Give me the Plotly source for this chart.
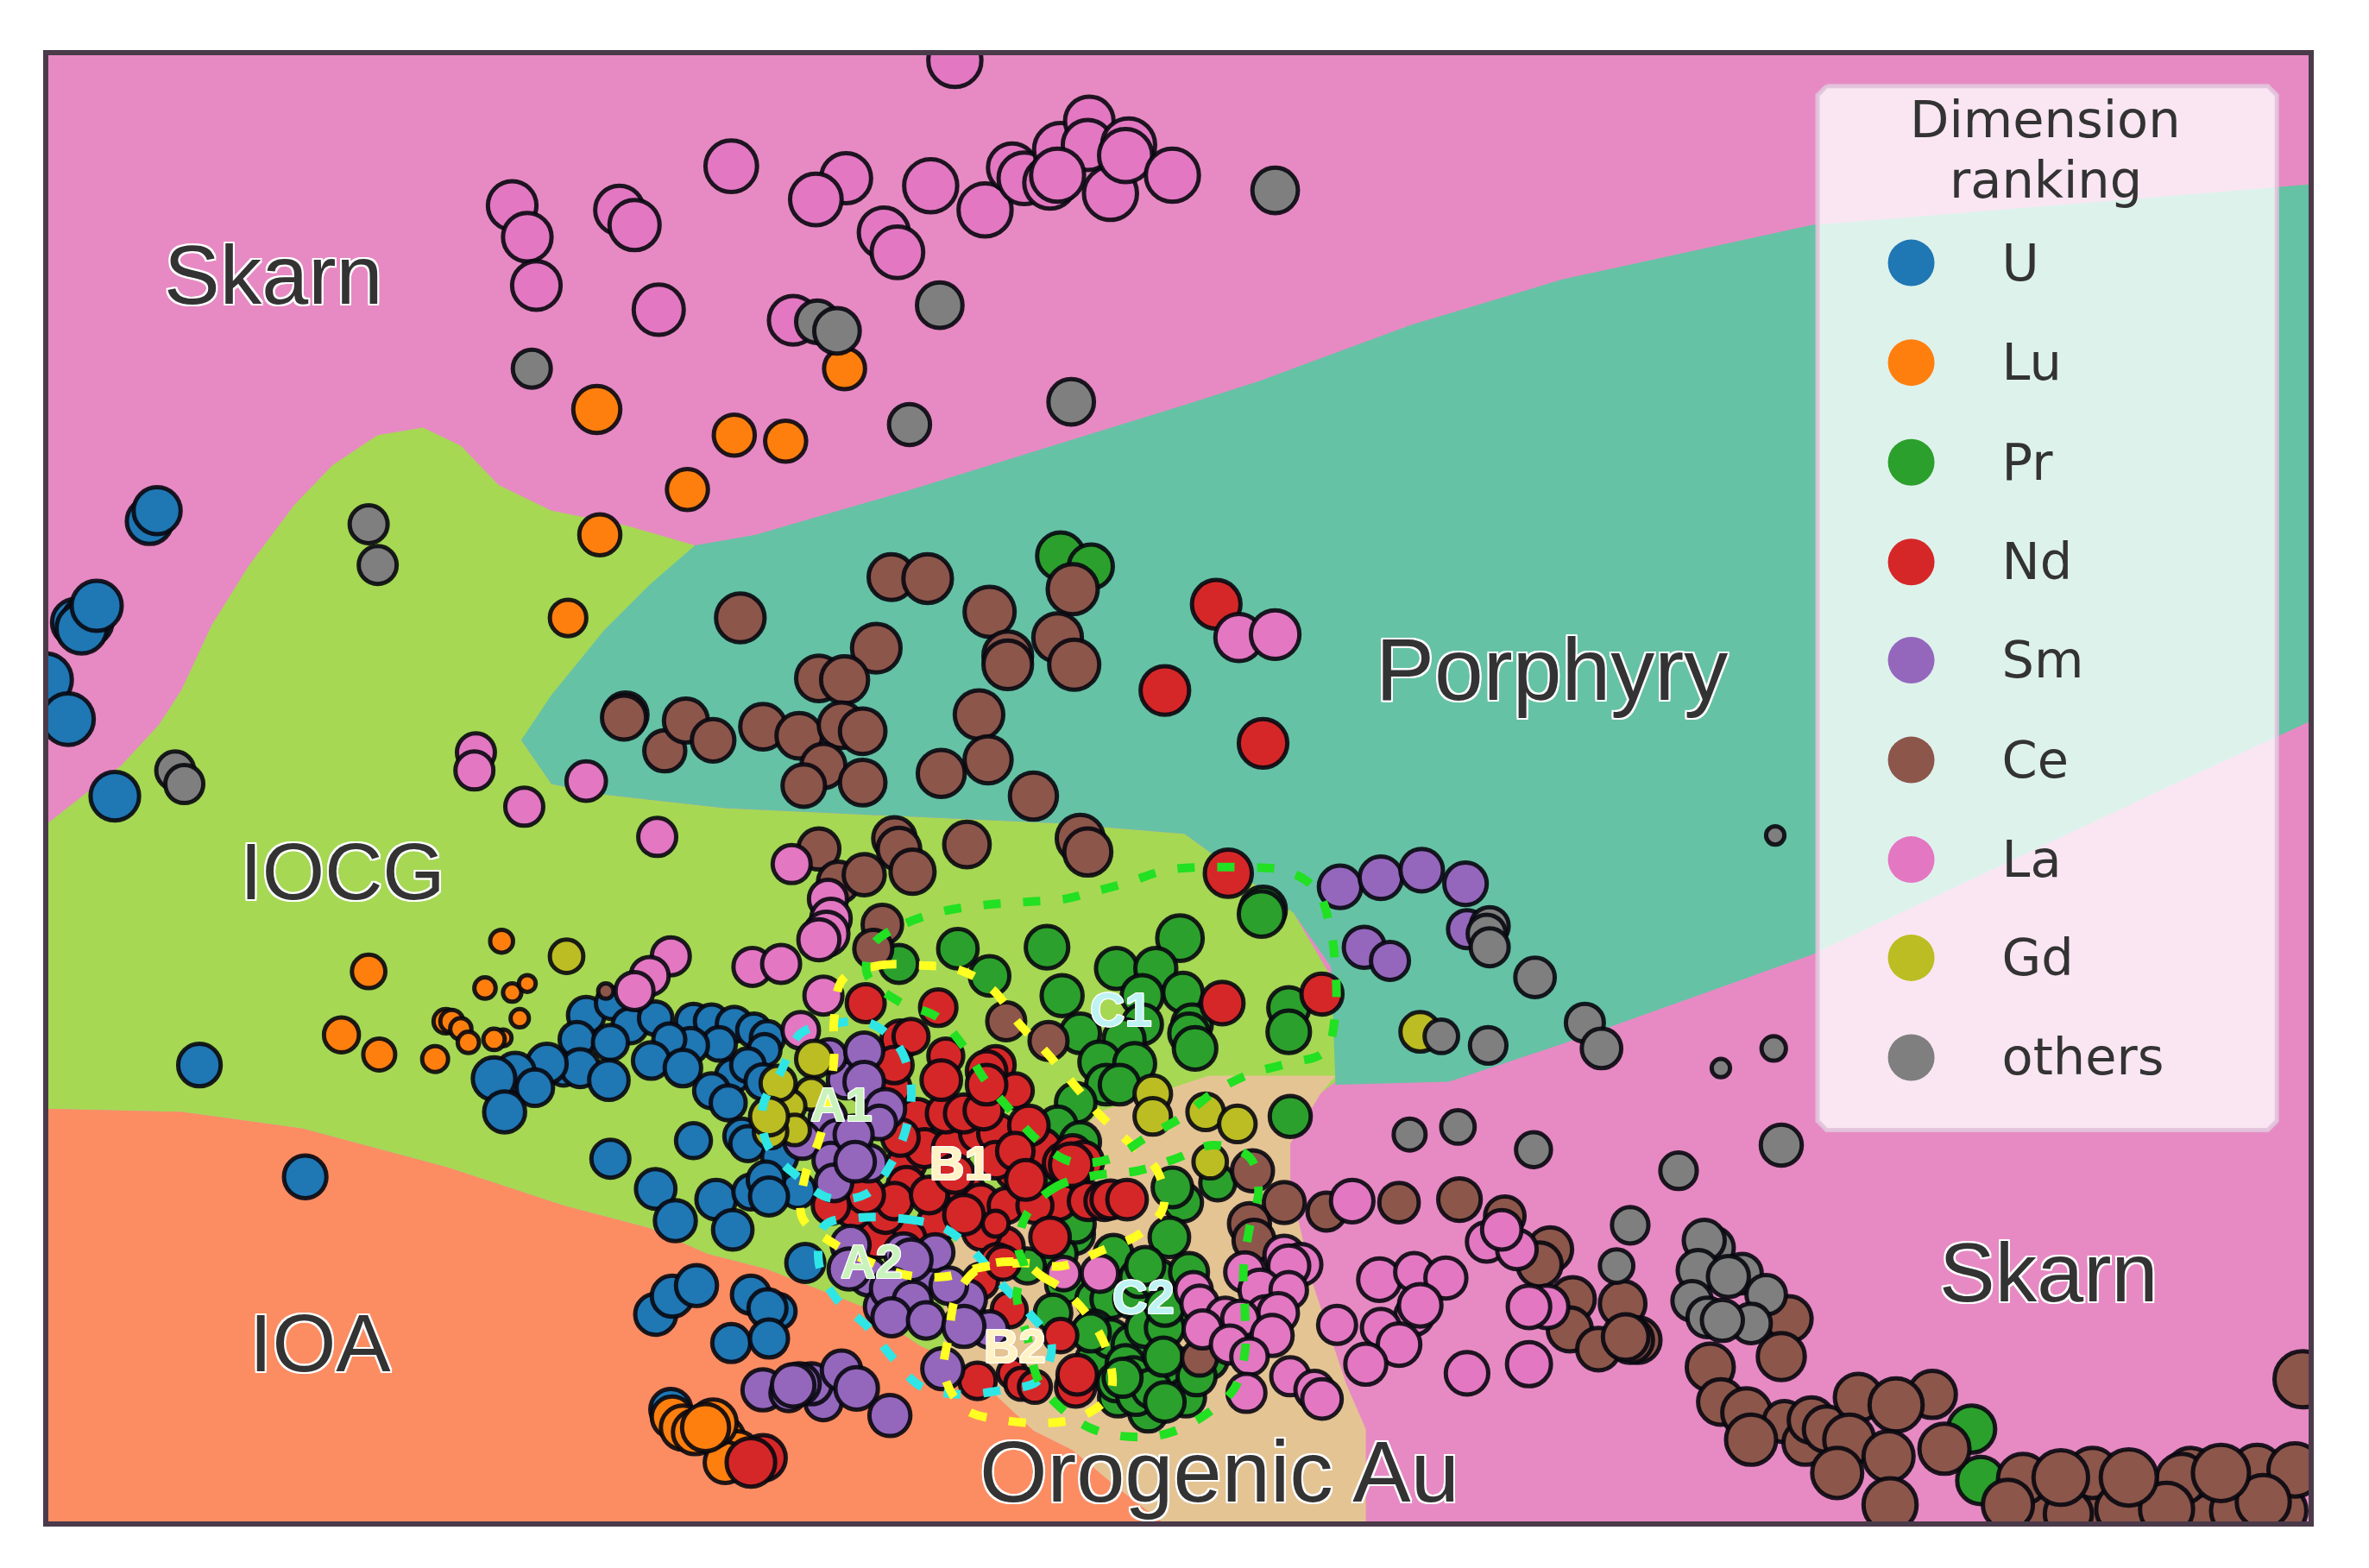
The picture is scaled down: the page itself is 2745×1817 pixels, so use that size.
import plotly.graph_objects as go

# coordinates are the two map dimensions
u_x = [99, 104, 50, 58, 54, 64, 30, 45, 76, 132, 202, 388, 405, 417, 382, 404, 434, 459, 471, 486, 499, 508, 506, 476, 457, 443, 431, 452, 485, 495, 471, 482, 505, 491, 495, 373, 384, 403, 362, 341, 354, 327, 334, 459, 404, 434, 447, 474, 485, 516, 497, 528, 507, 509, 533, 434, 445, 461, 497, 515, 508, 484, 509, 444]
u_y = [345, 338, 412, 411, 416, 401, 450, 476, 527, 705, 779, 672, 664, 679, 688, 690, 674, 676, 676, 678, 682, 687, 695, 691, 692, 688, 702, 707, 712, 705, 722, 730, 716, 752, 757, 708, 707, 715, 704, 710, 720, 714, 736, 755, 767, 787, 808, 794, 814, 766, 789, 788, 781, 792, 836, 870, 858, 851, 857, 868, 866, 889, 886, 933]
u_d = [33, 34, 34, 36, 36, 36, 38, 37, 35, 31, 31, 27, 24, 26, 26, 26, 25, 26, 25, 26, 25, 25, 24, 25, 26, 24, 27, 27, 25, 25, 26, 26, 26, 26, 26, 24, 28, 29, 29, 29, 27, 31, 30, 26, 28, 29, 30, 29, 29, 26, 26, 26, 27, 28, 28, 30, 30, 30, 28, 26, 28, 28, 28, 30]

lu_x = [395, 486, 520, 455, 397, 376, 559, 244, 332, 226, 251, 288, 321, 339, 349, 344, 295, 299, 305, 310, 333, 327, 445, 452, 460, 478, 488, 480, 472, 467]
lu_y = [271, 288, 292, 324, 354, 409, 244, 643, 623, 685, 698, 701, 654, 657, 651, 674, 676, 676, 681, 690, 687, 688, 938, 945, 948, 952, 962, 968, 942, 945]
lu_d = [34, 30, 30, 30, 30, 27, 30, 25, 18, 26, 24, 20, 17, 15, 14, 15, 19, 18, 17, 17, 14, 17, 30, 32, 32, 32, 32, 30, 34, 34]

pr_x = [702, 722, 634, 655, 693, 595, 781, 836, 835, 739, 765, 703, 783, 756, 715, 756, 744, 789, 787, 791, 728, 751, 732, 741, 853, 853, 712, 854, 700, 715, 783, 776, 806, 713, 711, 690, 700, 705, 725, 735, 750, 790, 735, 745, 760, 780, 800, 725, 740, 785, 760, 774, 737, 754, 766, 787, 724, 735, 749, 758, 771, 771, 745, 750, 739, 752, 762, 792, 770, 771, 697, 722, 680, 712, 758, 743, 1305, 1311]
pr_y = [368, 375, 628, 646, 627, 638, 621, 602, 605, 641, 641, 659, 657, 659, 684, 678, 688, 678, 684, 694, 703, 704, 718, 718, 667, 683, 730, 739, 745, 756, 796, 786, 783, 796, 817, 790, 830, 850, 860, 860, 860, 870, 905, 890, 905, 905, 900, 900, 925, 925, 935, 819, 830, 846, 846, 842, 880, 886, 890, 879, 879, 865, 903, 911, 915, 924, 919, 911, 898, 928, 869, 882, 838, 810, 838, 912, 946, 980]
pr_d = [34, 32, 29, 29, 31, 28, 33, 33, 33, 30, 30, 30, 29, 30, 29, 29, 30, 29, 29, 31, 30, 30, 29, 29, 30, 31, 29, 30, 28, 29, 28, 29, 26, 28, 29, 28, 28, 28, 28, 28, 28, 28, 28, 28, 28, 28, 28, 28, 28, 28, 28, 29, 28, 28, 28, 28, 28, 28, 28, 28, 28, 28, 28, 28, 28, 28, 28, 28, 28, 29, 27, 28, 26, 28, 28, 28, 34, 34]

nd_x = [805, 771, 836, 813, 809, 875, 590, 607, 600, 612, 630, 648, 660, 690, 672, 640, 620, 600, 580, 565, 665, 650, 700, 615, 640, 600, 573, 621, 596, 603, 592, 626, 659, 672, 626, 638, 651, 681, 586, 592, 573, 550, 596, 615, 632, 649, 659, 672, 666, 685, 638, 659, 623, 653, 653, 679, 704, 710, 720, 731, 735, 717, 709, 746, 695, 660, 649, 664, 668, 702, 670, 676, 685, 647, 712, 713, 505, 497]
nd_y = [400, 457, 492, 578, 664, 658, 720, 740, 770, 760, 760, 750, 750, 760, 775, 790, 810, 820, 820, 800, 825, 815, 795, 840, 870, 785, 664, 667, 688, 686, 705, 699, 705, 722, 737, 737, 735, 745, 804, 795, 791, 798, 753, 791, 777, 796, 768, 762, 798, 798, 804, 810, 715, 709, 718, 781, 770, 764, 795, 795, 794, 769, 771, 794, 819, 835, 848, 836, 867, 884, 909, 916, 918, 914, 918, 910, 965, 968]
nd_d = [35, 35, 35, 34, 31, 30, 28, 28, 28, 28, 28, 28, 28, 28, 28, 28, 28, 28, 28, 28, 28, 28, 28, 26, 26, 28, 28, 27, 28, 26, 27, 26, 28, 26, 28, 28, 28, 29, 27, 27, 27, 27, 27, 27, 28, 27, 27, 27, 26, 26, 29, 20, 29, 29, 29, 29, 29, 28, 28, 28, 28, 29, 31, 29, 29, 26, 26, 25, 26, 25, 22, 24, 24, 27, 29, 29, 33, 35]

sm_x = [887, 914, 941, 970, 903, 920, 971, 548, 560, 575, 549, 572, 572, 586, 582, 531, 554, 550, 552, 565, 566, 575, 585, 610, 640, 563, 562, 619, 598, 603, 590, 604, 628, 590, 613, 655, 638, 624, 505, 545, 522, 537, 529, 525, 557, 567, 589]
sm_y = [587, 581, 576, 585, 627, 636, 615, 740, 715, 770, 699, 696, 716, 734, 743, 755, 753, 768, 783, 751, 769, 845, 865, 845, 860, 824, 840, 829, 829, 834, 853, 861, 851, 872, 874, 880, 878, 906, 920, 928, 922, 916, 916, 917, 907, 919, 937]
sm_d = [31, 31, 31, 31, 30, 28, 28, 27, 27, 27, 25, 28, 29, 29, 25, 27, 26, 26, 27, 28, 29, 28, 28, 28, 28, 28, 30, 27, 28, 30, 30, 28, 27, 28, 27, 27, 30, 30, 30, 27, 27, 30, 30, 31, 29, 31, 30]

ce_x = [401, 590, 614, 655, 710, 490, 580, 700, 667, 667, 711, 542, 559, 648, 414, 413, 440, 454, 472, 505, 529, 557, 571, 545, 623, 654, 684, 571, 532, 542, 592, 595, 604, 640, 715, 720, 555, 572, 584, 578, 666, 694, 829, 850, 878, 926, 966, 996, 1026, 1019, 1041, 1039, 1074, 1058, 1084, 1079, 1076, 827, 830, 794, 1184, 1179, 1132, 1139, 1156, 1181, 1195, 1199, 1209, 1159, 1230, 1279, 1255, 1224, 1287, 1250, 1216, 1251, 1345, 1390, 1420, 1460, 1480, 1510, 1385, 1450, 1339, 1329, 1369, 1404, 1444, 1494, 1519, 1434, 1498, 1364, 1409, 1470, 1524]
ce_y = [656, 382, 383, 405, 390, 409, 429, 422, 434, 440, 440, 449, 450, 473, 473, 475, 497, 477, 490, 481, 487, 480, 484, 507, 512, 503, 527, 518, 520, 562, 555, 562, 577, 559, 555, 564, 584, 579, 612, 628, 676, 689, 775, 796, 802, 796, 794, 805, 827, 837, 860, 880, 863, 893, 887, 887, 885, 810, 821, 899, 873, 898, 905, 928, 935, 941, 955, 940, 946, 953, 925, 923, 930, 953, 959, 964, 975, 996, 1000, 1000, 1000, 1000, 1000, 1000, 975, 975, 979, 996, 1002, 999, 979, 973, 973, 999, 994, 978, 978, 975, 913]
ce_d = [13, 33, 35, 36, 36, 35, 35, 35, 35, 35, 36, 33, 34, 35, 32, 32, 30, 32, 31, 33, 33, 33, 33, 32, 34, 34, 34, 33, 31, 30, 31, 31, 32, 33, 34, 34, 30, 30, 29, 28, 28, 28, 30, 30, 28, 29, 31, 29, 32, 32, 32, 32, 33, 31, 33, 33, 33, 30, 30, 26, 33, 34, 34, 33, 35, 30, 32, 33, 33, 36, 34, 34, 38, 36, 36, 36, 36, 38, 36, 36, 36, 36, 36, 36, 36, 36, 36, 36, 34, 36, 36, 36, 38, 38, 38, 39, 40, 40, 40]

la_x = [632, 339, 349, 355, 410, 420, 484, 560, 540, 616, 652, 585, 594, 436, 525, 670, 678, 695, 702, 721, 720, 700, 735, 747, 745, 776, 315, 314, 388, 347, 435, 524, 548, 550, 547, 542, 498, 517, 444, 430, 420, 545, 530, 820, 844, 704, 728, 895, 850, 861, 853, 824, 834, 853, 790, 794, 838, 846, 811, 821, 796, 842, 814, 827, 825, 854, 870, 875, 885, 913, 936, 957, 936, 940, 914, 926, 904, 1024, 1012, 1012, 971, 984, 1004, 994]
la_y = [40, 136, 157, 189, 139, 149, 110, 118, 132, 123, 139, 154, 167, 205, 212, 111, 118, 121, 99, 80, 96, 116, 128, 96, 103, 116, 498, 510, 517, 534, 554, 572, 595, 608, 618, 622, 640, 638, 633, 646, 656, 659, 682, 422, 420, 843, 843, 795, 831, 837, 838, 842, 854, 854, 854, 863, 871, 869, 871, 873, 880, 884, 890, 898, 922, 911, 920, 926, 877, 847, 842, 846, 871, 864, 879, 890, 903, 865, 865, 903, 909, 822, 827, 814]
la_d = [38, 35, 35, 35, 35, 36, 37, 36, 37, 38, 38, 36, 37, 36, 35, 35, 37, 37, 38, 35, 36, 38, 38, 38, 38, 38, 28, 28, 29, 28, 28, 28, 28, 29, 32, 30, 28, 28, 28, 28, 28, 28, 27, 34, 35, 25, 27, 31, 29, 30, 30, 29, 30, 27, 27, 27, 29, 29, 27, 27, 28, 30, 28, 27, 28, 28, 28, 29, 28, 31, 28, 30, 28, 31, 28, 31, 30, 31, 31, 32, 31, 29, 29, 29]

gd_x = [375, 940, 539, 537, 523, 526, 510, 515, 509, 763, 763, 798, 819, 801]
gd_y = [633, 683, 701, 724, 732, 748, 749, 717, 739, 724, 739, 736, 744, 769]
gd_d = [25, 29, 27, 24, 23, 23, 25, 26, 28, 27, 27, 27, 27, 25]

ot_x = [844, 622, 541, 554, 352, 709, 602, 244, 250, 116, 122, 1175, 986, 984, 986, 1016, 1049, 1060, 954, 985, 1139, 1174, 933, 965, 1015, 1111, 1179, 1079, 1070, 1134, 1128, 1124, 1153, 1144, 1169, 1120, 1159, 1130, 1140]
ot_y = [126, 202, 213, 219, 244, 266, 281, 347, 374, 510, 519, 553, 613, 618, 627, 647, 677, 694, 686, 692, 707, 694, 751, 746, 761, 775, 758, 811, 838, 826, 821, 841, 843, 845, 857, 861, 876, 872, 874]
ot_d = [33, 33, 31, 33, 28, 33, 30, 28, 28, 28, 28, 15, 28, 28, 28, 29, 28, 29, 25, 27, 15, 19, 24, 25, 26, 27, 30, 27, 25, 30, 30, 30, 29, 30, 29, 29, 29, 29, 30]

ranks = ['U', 'Lu', 'Pr', 'Nd', 'Sm', 'Ce', 'La', 'Gd', 'others']
rank_colors = ['#1f77b4', '#ff7f0e', '#2ca02c', '#d62728', '#9467bd', '#8c564b', '#e377c2', '#bcbd22', '#7f7f7f']
rank_points = [(u_x, u_y, u_d), (lu_x, lu_y, lu_d), (pr_x, pr_y, pr_d), (nd_x, nd_y, nd_d), (sm_x, sm_y, sm_d),
               (ce_x, ce_y, ce_d), (la_x, la_y, la_d), (gd_x, gd_y, gd_d), (ot_x, ot_y, ot_d)]

# decision regions, skarn is the plot background
iocg_x = [29, 80, 105, 120, 140, 165, 195, 220, 250, 280, 305, 330, 365, 415, 460, 400, 345, 365, 400, 480, 700, 784, 856, 883, 884, 640, 609, 571, 507, 468, 430, 373, 297, 200, 120, 29]
iocg_y = [547, 507, 480, 457, 414, 374, 334, 308, 288, 283, 295, 321, 338, 348, 361, 417, 490, 519, 526, 535, 545, 552, 604, 650, 716, 905, 891, 865, 840, 830, 813, 798, 773, 747, 736, 734]
porphyry_x = [1530, 1199, 1034, 934, 834, 784, 600, 500, 460, 430, 400, 365, 345, 365, 400, 480, 700, 784, 856, 881, 884, 959, 1034, 1199, 1439, 1530]
porphyry_y = [122, 149, 185, 215, 252, 268, 325, 354, 361, 387, 417, 460, 490, 519, 526, 535, 545, 552, 604, 640, 718, 716, 691, 632, 519, 477]
ioa_x = [29, 120, 200, 297, 373, 430, 468, 507, 571, 609, 640, 666, 684, 710, 740, 770, 29]
ioa_y = [734, 736, 747, 773, 798, 813, 830, 840, 865, 891, 905, 930, 947, 960, 985, 1008, 1008]
orogenic_x = [884, 874, 854, 854, 869, 891, 904, 904, 770, 740, 710, 684, 650, 625, 625, 660, 700, 730, 770, 800]
orogenic_y = [712, 724, 757, 784, 850, 916, 946, 1008, 1008, 985, 960, 947, 915, 890, 830, 790, 760, 735, 722, 712]

region_names = ['Skarn', 'Porphyry', 'IOCG', 'IOA', 'Orogenic Au', 'Skarn']
region_x = [181, 1027, 227, 212, 807, 1356]
region_y = [182, 443, 577, 889, 974, 842]
region_sizes = [97, 102, 93, 95, 101, 97]

# hand drawn cluster outlines
a1_x = [575, 595, 603, 600, 590, 574, 549, 527, 508, 505, 517, 530, 550, 575]
a1_y = [677, 693, 719, 746, 770, 790, 793, 778, 758, 732, 709, 684, 678, 677]
a2_x = [569, 600, 625, 645, 663, 681, 696, 687, 664, 636, 610, 591, 574, 553, 542, 546, 569]
a2_y = [806, 807, 813, 829, 850, 869, 890, 914, 920, 923, 918, 899, 878, 859, 836, 811, 806]
b1_x = [558, 582, 610, 635, 657, 674, 692, 711, 727, 746, 766, 770, 754, 731, 703, 677, 649, 626, 600, 575, 550, 531, 533, 542, 548, 552, 552, 558]
b1_y = [648, 639, 639, 642, 655, 677, 696, 718, 737, 755, 775, 799, 817, 827, 838, 836, 839, 845, 844, 835, 822, 806, 778, 755, 730, 701, 676, 648]
b2_x = [677, 690, 703, 721, 733, 735, 715, 690, 664, 639, 625, 628, 633, 649, 677]
b2_y = [836, 845, 853, 872, 895, 922, 938, 942, 940, 933, 910, 884, 858, 839, 836]
c1_x = [578, 600, 625, 652, 679, 705, 721, 747, 772, 818, 853, 872, 881, 884, 884, 877, 852, 827, 802, 783, 760, 735, 709, 687, 668, 652, 638, 620, 595, 574, 578]
c1_y = [625, 611, 603, 599, 597, 595, 591, 584, 576, 574, 577, 590, 617, 642, 669, 696, 704, 711, 724, 739, 752, 767, 769, 755, 734, 715, 693, 673, 663, 645, 625]
c2_x = [725, 700, 680, 674, 678, 673, 680, 687, 699, 721, 747, 772, 797, 817, 824, 824, 823, 827, 833, 827, 803, 778, 753, 725]
c2_y = [778, 785, 803, 826, 839, 857, 885, 913, 929, 945, 951, 949, 937, 919, 895, 868, 841, 813, 788, 766, 758, 767, 775, 778]

cluster_names = ['A1', 'A2', 'B1', 'B2', 'C1', 'C2']
cluster_x = [557, 577, 636, 672, 742, 757]
cluster_y = [731, 835, 770, 891, 668, 858]
cluster_colors = ['#c9f2bd', '#c9f2bd', '#fff2c4', '#fff2c4', '#bff3f3', '#bff3f3']

legend_box_x = [1209, 1501, 1507, 1507, 1501, 1209, 1203, 1203, 1209]
legend_box_y = [57, 57, 63, 742, 748, 748, 742, 63, 57]
legend_x = [1265] * 9
legend_y = [174, 240, 306, 372, 437, 503, 569, 634, 700]
legend_text_x = [1325] * 9
legend_text_y = [177, 243, 309, 375, 440, 506, 572, 637, 703]

SCALE = 2745 / 1568  # picture units to screen pixels
LINE = 5
HALO = ','.join(f'{a}px {b}px 0 white' for a in (-2, 0, 2) for b in (-2, 0, 2))
THIN_HALO = ','.join(f'{a}px {b}px 0 white' for a in (-1, 0, 1) for b in (-1, 0, 1))

fig = go.Figure()


def add_region(xs, ys, color):
    fig.add_trace(go.Scatter(x=xs, y=ys, mode='lines', fill='toself', fillcolor=color,
                             line=dict(width=0), hoverinfo='skip', showlegend=False))


add_region(iocg_x, iocg_y, '#a6d854')
add_region(ioa_x, ioa_y, '#fc8d62')
add_region(orogenic_x, orogenic_y, '#e5c494')
add_region(porphyry_x, porphyry_y, '#66c2a5')

for name, color, (xs, ys, ds) in zip(ranks, rank_colors, rank_points):
    fig.add_trace(go.Scatter(
        x=xs, y=ys, mode='markers', name=name, showlegend=False,
        marker=dict(color=color, size=[d * SCALE - LINE for d in ds], opacity=1,
                    line=dict(color='rgba(8,8,16,0.9)', width=LINE)),
    ))

for xs, ys, color in [(a1_x, a1_y, '#2fe6e6'), (a2_x, a2_y, '#2fe6e6'), (b1_x, b1_y, '#ffff22'),
                      (b2_x, b2_y, '#ffff22'), (c1_x, c1_y, '#22e022'), (c2_x, c2_y, '#22e022')]:
    fig.add_trace(go.Scatter(x=xs, y=ys, mode='lines', hoverinfo='skip', showlegend=False,
                             line=dict(color=color, width=10, dash='20px,26px', shape='spline')))

# legend panel is drawn by hand so the swatches can be this large
fig.add_trace(go.Scatter(x=legend_box_x, y=legend_box_y, mode='lines', fill='toself',
                         fillcolor='rgba(255,255,255,0.79)', hoverinfo='skip', showlegend=False,
                         line=dict(color='rgba(225,195,220,0.9)', width=5)))
fig.add_trace(go.Scatter(x=legend_x, y=legend_y, mode='markers', showlegend=False,
                         marker=dict(color=rank_colors, size=54, line=dict(width=0))))
fig.add_trace(go.Scatter(x=legend_text_x, y=legend_text_y, mode='text', text=ranks, showlegend=False,
                         textposition='middle right',
                         textfont=dict(family='DejaVu Sans', size=59, color='#333333')))

fig.add_annotation(x=1354, y=79, text='Dimension', showarrow=False,
                   font=dict(family='DejaVu Sans', size=59, color='#333333'))
fig.add_annotation(x=1354, y=119, text='ranking', showarrow=False,
                   font=dict(family='DejaVu Sans', size=59, color='#333333'))

for name, x, y, size in zip(region_names, region_x, region_y, region_sizes):
    fig.add_annotation(x=x, y=y, text=name, showarrow=False,
                       font=dict(family='Liberation Sans', size=size, color='#333333', shadow=HALO))

for name, x, y, color in zip(cluster_names, cluster_x, cluster_y, cluster_colors):
    fig.add_annotation(x=x, y=y, text=f'<b>{name}</b>', showarrow=False,
                       font=dict(family='Liberation Sans', size=56, color=color, shadow=THIN_HALO))

fig.update_layout(
    width=2745, height=1817,
    margin=dict(l=56, r=70, t=64, b=54, pad=0),
    paper_bgcolor='white', plot_bgcolor='#e78ac3',
    showlegend=False,
)
fig.update_xaxes(range=[56 / SCALE, 2675 / SCALE], showticklabels=False, ticks='', showgrid=False, zeroline=False,
                 showline=True, mirror=True, linecolor='#4a3a4a', linewidth=6)
fig.update_yaxes(range=[1763 / SCALE, 64 / SCALE], showticklabels=False, ticks='', showgrid=False, zeroline=False,
                 showline=True, mirror=True, linecolor='#4a3a4a', linewidth=6)

fig.write_html("out.html", config=dict(displayModeBar=False), post_script="document.body.style.margin='0';")
